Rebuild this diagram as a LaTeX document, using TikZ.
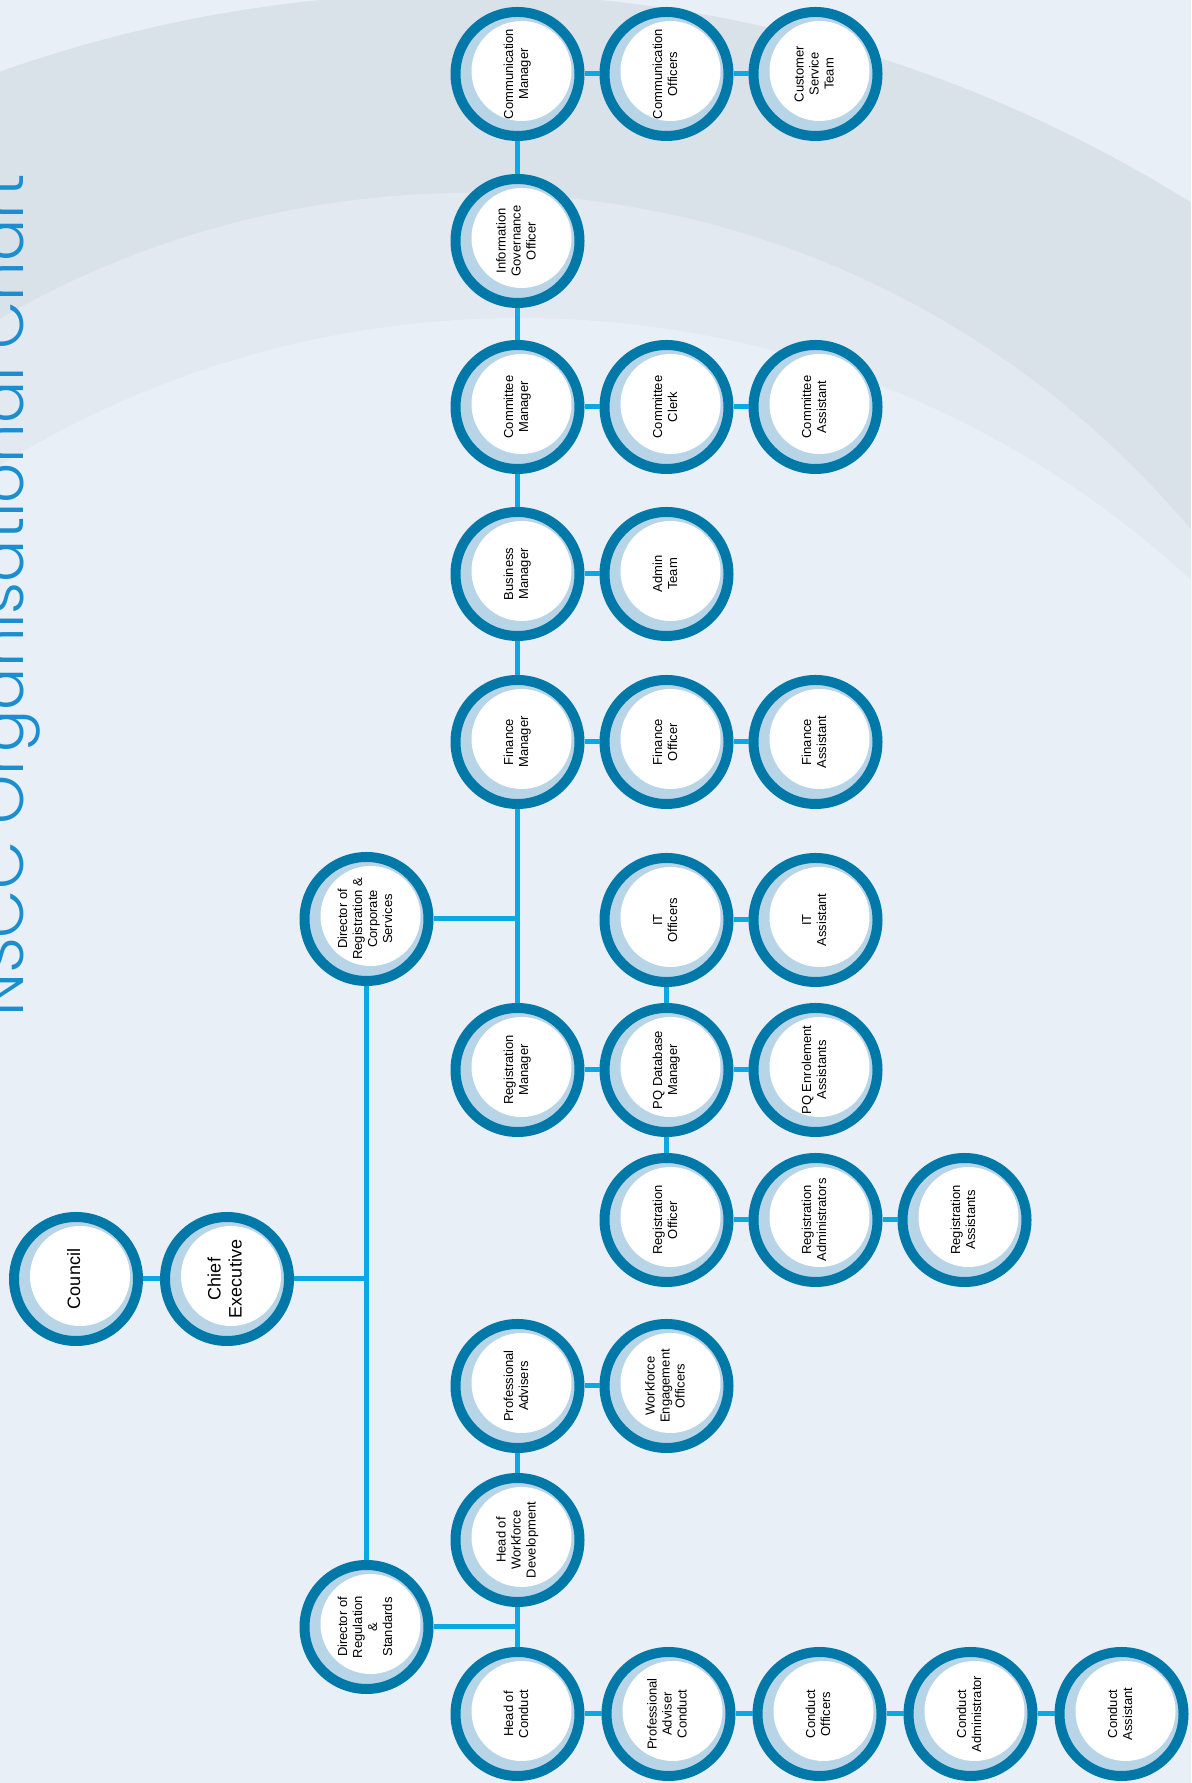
\documentclass[tikz,border=0pt]{standalone}
\usepackage{fontspec}
\setmainfont{Liberation Sans}
\newfontfamily\titlefont{Poppins Light}
\usepackage{xcolor}
\definecolor{RingBlue}{HTML}{0078A8}
\definecolor{RingPale}{HTML}{B8D5E8}
\definecolor{LinkBlue}{HTML}{0AA9E6}
\definecolor{PageBlue}{HTML}{E8EFF7}
\definecolor{BandGray}{HTML}{D9E1E9}
\definecolor{BandMid}{HTML}{E2E9F1}
\definecolor{TitleBlue}{HTML}{1A8ECF}
\usepackage{graphicx}
\usepackage{tikz}
\usetikzlibrary{positioning}
\pgfdeclarelayer{back}
\pgfsetlayers{back,main}
\newcommand{\turn}[1]{\rotatebox{90}{\begin{tabular}{@{}c@{}}#1\end{tabular}}}

\begin{document}
\begin{tikzpicture}[x=0.5pt,y=0.5pt,node distance=7.5pt,
  post/.style={circle,draw=RingBlue,line width=5pt,fill=RingPale,minimum size=62pt,inner sep=0pt,
    font=\fontsize{6.5}{7.5}\selectfont,
    path picture={\fill[white] ([shift={(2pt,1.5pt)}]path picture bounding box.center) circle (25pt);}},
  big/.style={post,font=\fontsize{9}{10.5}\selectfont},
  link/.style={draw=LinkBlue,line width=2.5pt}]
\useasboundingbox (0,0) rectangle (1191,1783);
% background bands
\begin{pgfonlayer}{back}
\fill[PageBlue] (0,0) rectangle (1191,1783);
\begin{scope}
\clip (0,0) rectangle (1191,1783);
\fill[BandGray] (460,412) circle (1378);
\fill[BandMid] (470,650) circle (940);
\fill[PageBlue] (520,475) circle (990);
\end{scope}
\end{pgfonlayer}
\node[rotate=90,anchor=base west,text=TitleBlue,font=\titlefont\fontsize{31.3}{31.3}\selectfont] (title) at (24,759) {NSCC Organisational Chart};
% top of the chart
\node[big] (council) at (76,504) {\turn{Council}};
\node[big] (ceo) at (227,504) {\turn{Chief\\Executive}};
\node[post] (dirrc) at (366.5,864) {\turn{Director of\\Registration \&\\Corporate\\Services}};
\node[post] (dirrs) at (366.5,156) {\turn{Director of\\Regulation\\\&\\Standards}};
% registration & corporate services
\node[post] (commgr) at (517.5,1709) {\turn{Communication\\Manager}};
\node[post,right=of commgr] (commoff) {\turn{Communication\\Officers}};
\node[post,right=of commoff] (custsvc) {\turn{Customer\\Service\\Team}};
\node[post] (infogov) at (517.5,1542) {\turn{Information\\Governance\\Officer}};
\node[post] (cttmgr) at (517.5,1376) {\turn{Committee\\Manager}};
\node[post,right=of cttmgr] (cttclerk) {\turn{Committee\\Clerk}};
\node[post,right=of cttclerk] (cttasst) {\turn{Committee\\Assistant}};
\node[post] (busmgr) at (517.5,1209) {\turn{Business\\Manager}};
\node[post,right=of busmgr] (admin) {\turn{Admin\\Team}};
\node[post] (finmgr) at (517.5,1041) {\turn{Finance\\Manager}};
\node[post,right=of finmgr] (finoff) {\turn{Finance\\Officer}};
\node[post,right=of finoff] (finasst) {\turn{Finance\\Assistant}};
\node[post] (regmgr) at (517.5,713) {\turn{Registration\\Manager}};
\node[post,right=of regmgr] (pqdb) {\turn{PQ Database\\Manager}};
\node[post,right=of pqdb] (pqenrol) {\turn{PQ Enrolement\\Assistants}};
\node[post,above=8pt of pqdb] (itoff) {\turn{IT\\Officers}};
\node[post,right=of itoff] (itasst) {\turn{IT\\Assistant}};
\node[post,below=8pt of pqdb] (regoff) {\turn{Registration\\Officer}};
\node[post,right=of regoff] (regadmin) {\turn{Registration\\Administrators}};
\node[post,right=of regadmin] (regasst) {\turn{Registration\\Assistants}};
% regulation & standards
\node[post] (profadv) at (517.5,397) {\turn{Professional\\Advisers}};
\node[post,right=of profadv] (wfeng) {\turn{Workforce\\Engagement\\Officers}};
\node[post] (headwf) at (517.5,243) {\turn{Head of\\Workforce\\Development}};
\node[post] (headcond) at (517.5,69) {\turn{Head of\\Conduct}};
\node[post,right=8.5pt of headcond] (pacond) {\turn{Professional\\Adviser\\Conduct}};
\node[post,right=8.5pt of pacond] (condoff) {\turn{Conduct\\Officers}};
\node[post,right=8.5pt of condoff] (condadmin) {\turn{Conduct\\Administrator}};
\node[post,right=8.5pt of condadmin] (condasst) {\turn{Conduct\\Assistant}};
% links
\draw[link] (council) -- (ceo);
\draw[link] (ceo) -- (ceo -| dirrc);
\draw[link] (dirrc) -- (dirrs);
\draw[link] (dirrc) -- (dirrc -| finmgr);
\draw[link] (commgr) -- (infogov);\draw[link] (infogov) -- (cttmgr);\draw[link] (cttmgr) -- (busmgr);\draw[link] (busmgr) -- (finmgr);\draw[link] (finmgr) -- (regmgr);
\draw[link] (commgr) -- (commoff);\draw[link] (commoff) -- (custsvc);
\draw[link] (cttmgr) -- (cttclerk);\draw[link] (cttclerk) -- (cttasst);
\draw[link] (busmgr) -- (admin);
\draw[link] (finmgr) -- (finoff);\draw[link] (finoff) -- (finasst);
\draw[link] (itoff) -- (itasst);\draw[link] (itoff) -- (pqdb);
\draw[link] (regmgr) -- (pqdb);\draw[link] (pqdb) -- (pqenrol);\draw[link] (pqdb) -- (regoff);
\draw[link] (regoff) -- (regadmin);\draw[link] (regadmin) -- (regasst);
\draw[link] (dirrs) -- (dirrs -| headcond);
\draw[link] (profadv) -- (wfeng);\draw[link] (profadv) -- (headwf);\draw[link] (headwf) -- (headcond);
\draw[link] (headcond) -- (pacond);\draw[link] (pacond) -- (condoff);\draw[link] (condoff) -- (condadmin);\draw[link] (condadmin) -- (condasst);
\end{tikzpicture}
\end{document}
